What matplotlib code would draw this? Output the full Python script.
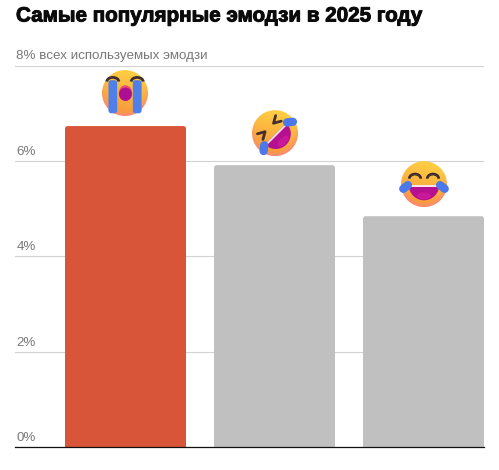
import numpy as np
import matplotlib
matplotlib.use('Agg')
from matplotlib import pyplot as plt
from matplotlib import patheffects
from matplotlib.patches import Circle, Ellipse, Wedge, Rectangle, FancyBboxPatch, Arc
from matplotlib.lines import Line2D
from matplotlib.transforms import Affine2D

plt.rcParams['font.family'] = ['Liberation Sans', 'DejaVu Sans']

title = 'Самые популярные эмодзи в 2025 году'
categories = ['Плачущее лицо', 'Катается от смеха', 'Слёзы радости']
values = [6.73, 5.91, 4.84]
bar_colors = ['#d95539', '#c0c0c0', '#c0c0c0']
ticks = [0, 2, 4, 6, 8]
tick_labels = ['0%', '2%', '4%', '6%', '8% всех используемых эмодзи']

W, H = 499, 470
fig = plt.figure(figsize=(W / 100, H / 100), dpi=100, facecolor='white')
ax = fig.add_axes([15 / W, (H - 447) / H, 469 / W, 381.5 / H])

x = np.arange(len(values))
bars = ax.bar(x, values, width=121 / 149, color=bar_colors, zorder=2)

ax.set_xlim(-110.5 / 149, 2 + 60.5 / 149)
ax.set_ylim(0, 8)

# rounded top corners, the bar itself stays a plain bar
for b in bars:
    clip = FancyBboxPatch((b.get_x(), -1), b.get_width(), b.get_height() + 1,
                          boxstyle='round,pad=0,rounding_size=0.018',
                          mutation_aspect=149 / 47.7,
                          transform=ax.transData)
    b.set_clip_path(clip)

for s in ['top', 'left', 'right']:
    ax.spines[s].set_visible(False)
ax.spines['bottom'].set_color('#111111')
ax.spines['bottom'].set_linewidth(0.9)
ax.spines['bottom'].set_zorder(4)
ax.set_xticks([])
ax.set_yticks(ticks)
ax.tick_params(left=False, labelleft=False)
ax.grid(axis='y', color='#d2d2d2', linewidth=0.8, zorder=1)
ax.set_axisbelow(True)

for t, lab in zip(ticks, tick_labels):
    ax.annotate(lab, (0, t), xycoords=('axes fraction', 'data'), xytext=(1, 2.2),
                textcoords='offset points', fontsize=9.65, color='#777777',
                ha='left', va='bottom', zorder=3)

fig.text(16 / W, 1 - 21.5 / H, title, fontsize=14.85, fontweight='bold', color='#0b0b0b',
         ha='left', va='baseline',
         path_effects=[patheffects.withStroke(linewidth=0.7, foreground='#0b0b0b')])


def add(patch, tr):
    patch.set_transform(tr)
    patch.set_clip_on(False)
    patch.set_zorder(5)
    ax.add_patch(patch)
    return patch


def draw_face(cx, cy, r, rot=0):
    tr = Affine2D().rotate_deg(rot).scale(r).translate(cx, cy)
    # face gradient, yellow on top going to orange and pink at the rim
    yy, xx = np.mgrid[1:-1:80j, -1:1:80j]
    t = np.clip(0.5 - (yy + 0.25 * xx) * 0.55, 0, 1)
    rim = np.clip(np.hypot(xx, yy) - 0.8, 0, 1) / 0.2
    top = np.array([1.0, 0.80, 0.26])
    bot = np.array([0.97, 0.60, 0.24])
    pink = np.array([0.98, 0.55, 0.45])
    img = top + (bot - top) * t[..., None]
    img = img + (pink - img) * (rim * np.clip(0.4 - yy, 0, 1))[..., None]
    img = np.clip(img, 0, 1)
    im_tr = Affine2D().scale(r).translate(cx, cy)
    im = ax.imshow(img, extent=(-1, 1, -1, 1), aspect='auto', interpolation='bilinear',
                   transform=im_tr, zorder=5)
    im.set_clip_path(Circle((0, 0), 1, transform=im_tr))
    return tr


def line(xs, ys, tr, color, lw):
    ln = Line2D(xs, ys, color=color, linewidth=lw, solid_capstyle='round',
                solid_joinstyle='round', transform=tr, zorder=6, clip_on=False)
    ax.add_line(ln)


def tear_capsules(tr):
    for sign in (-1, 1):
        line([sign * 0.70, sign * 0.90], [-0.04, -0.20], tr, '#4b78ea', 6.0)


def smile_mouth(tr):
    add(Wedge((0, -0.04), 0.66, 180, 360, fc='#b5108f', ec='none'), tr)
    add(Ellipse((0.0, -0.50), 0.62, 0.30, fc='#c9189a', ec='none'), tr)
    add(Rectangle((-0.62, -0.12), 1.24, 0.08, fc='#f8e3ee', ec='none'), tr)


r = 23
centers = [ax.transData.transform((x[i], values[i])) for i in range(3)]

# crying face
cx, cy = centers[0][0] - 0.5, centers[0][1] + 33
tr = draw_face(cx, cy, r)
for sign in (-1, 1):
    add(FancyBboxPatch((sign * 0.53 - 0.19, -0.88), 0.38, 1.44,
                       boxstyle='round,pad=0,rounding_size=0.12',
                       fc='#4f80ea', ec='none'), tr)
    add(Arc((sign * 0.53, 0.50), 0.52, 0.36, theta1=0, theta2=180, ec='#3f2f35', lw=2.0), tr)
add(Ellipse((0.02, 0.0), 0.58, 0.68, fc='#e8506e', ec='none'), tr)
add(Ellipse((0.02, -0.05), 0.56, 0.58, fc='#ad0f92', ec='none'), tr)

# rolling on the floor
cx, cy = centers[1][0] + 0.5, centers[1][1] + 32
tr = draw_face(cx, cy, r, rot=45)
smile_mouth(tr)
for sign in (-1, 1):
    line([sign * 0.56, sign * 0.26, sign * 0.56], [0.52, 0.35, 0.18], tr, '#46302f', 2.0)
tear_capsules(tr)

# tears of joy
cx, cy = centers[2][0] + 0.5, centers[2][1] + 32
tr = draw_face(cx, cy, r)
smile_mouth(tr)
for sign in (-1, 1):
    add(Arc((sign * 0.39, 0.24), 0.50, 0.40, theta1=0, theta2=180, ec='#3f2f2d', lw=2.0), tr)
tear_capsules(tr)

ax.set_xlim(-110.5 / 149, 2 + 60.5 / 149)
ax.set_ylim(0, 8)
ax.set_aspect('auto')

fig.savefig('out.png', dpi=100, facecolor='white')
